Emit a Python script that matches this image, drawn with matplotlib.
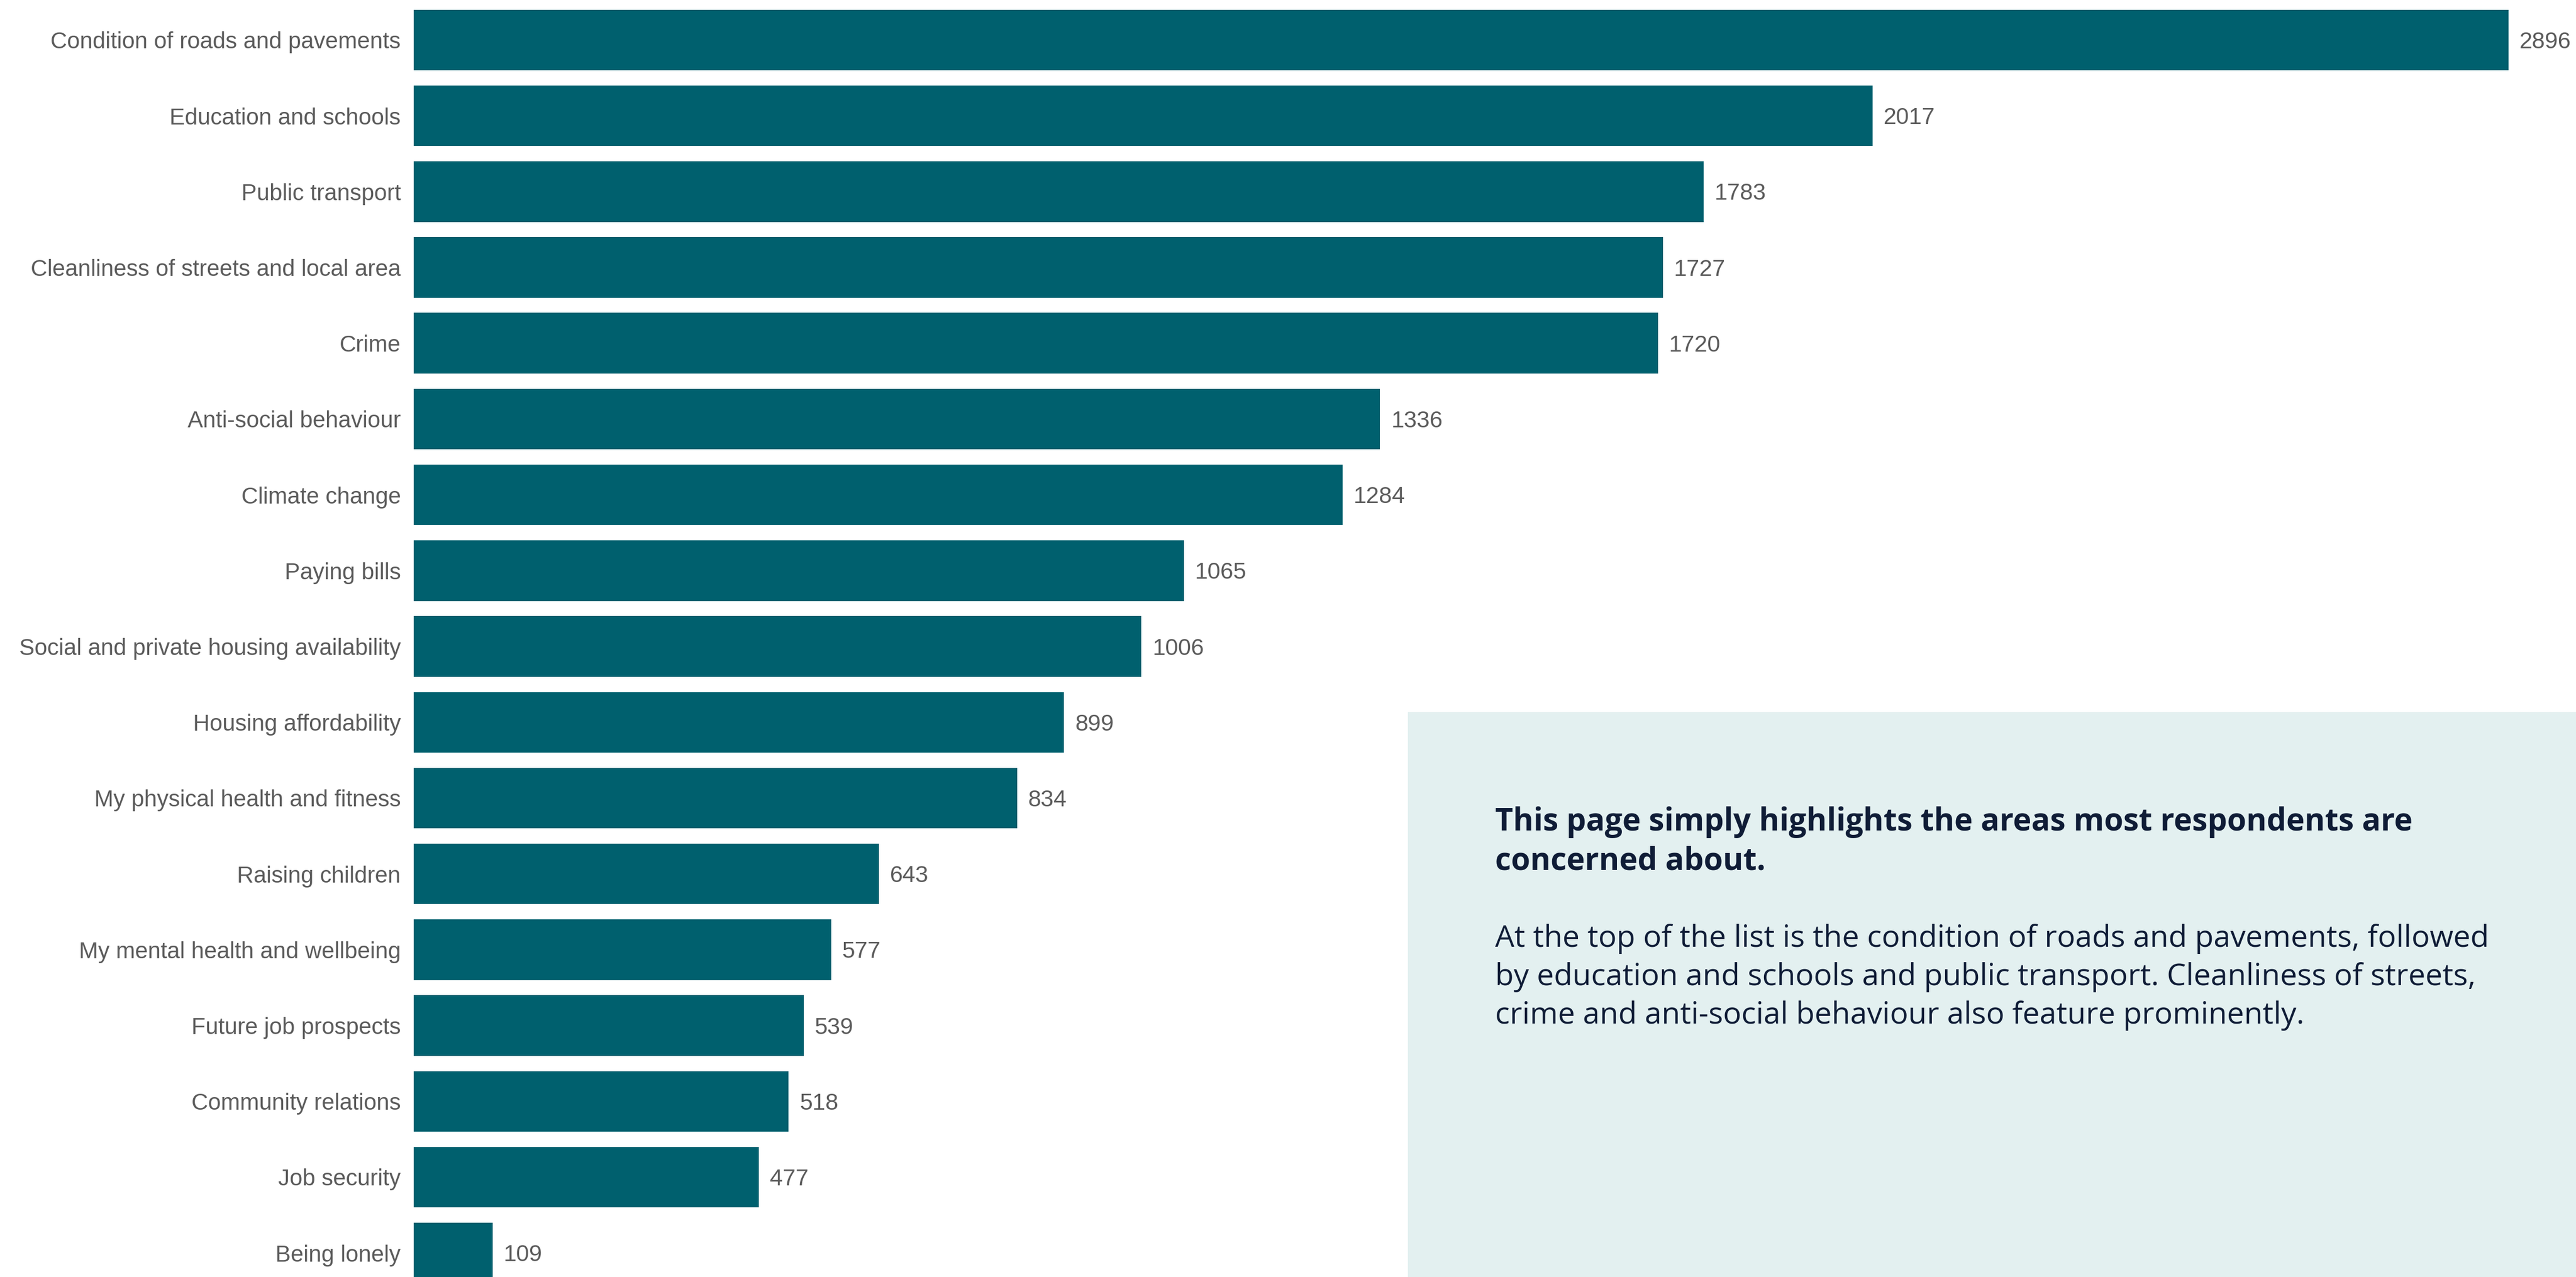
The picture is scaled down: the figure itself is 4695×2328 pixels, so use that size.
import matplotlib.pyplot as plt
from matplotlib.patches import Rectangle

# ---- data ----
categories = [
    "Condition of roads and pavements",
    "Education and schools",
    "Public transport",
    "Cleanliness of streets and local area",
    "Crime",
    "Anti-social behaviour",
    "Climate change",
    "Paying bills",
    "Social and private housing availability",
    "Housing affordability",
    "My physical health and fitness",
    "Raising children",
    "My mental health and wellbeing",
    "Future job prospects",
    "Community relations",
    "Job security",
    "Being lonely",
]
counts = [2896, 2017, 1783, 1727, 1720, 1336, 1284, 1065, 1006, 899, 834, 643, 577, 539, 518, 477, 109]

heading_lines = [
    "This page simply highlights the areas most respondents are",
    "concerned about.",
]
body_lines = [
    "At the top of the list is the condition of roads and pavements, followed",
    "by education and schools and public transport. Cleanliness of streets,",
    "crime and anti-social behaviour also feature prominently.",
]

BAR = "#00606e"
GREY = "#5b5b5b"
NAVY = "#0f1c36"
PANEL = "#e3f0f0"

W, H = 4695, 2328
fig = plt.figure(figsize=(W / 100, H / 100), dpi=100)

# axes placed so that bars start at x=754px and run to the right edge
ax = fig.add_axes([754 / W, 0, 1 - 754 / W, 1])
ypos = list(range(len(categories)))
ax.barh(ypos, counts, height=0.8, color=BAR)
ax.set_xlim(0, (W - 754) / 1.3184)
ax.set_ylim(16.317, -0.528)

for y, v in zip(ypos, counts):
    ax.annotate(str(v), (v, y), xytext=(20, -4), textcoords="offset pixels",
                va="center", ha="left", fontsize=30.5, color=GREY,
                family="Liberation Sans")

ax.set_yticks(ypos)
ax.set_yticklabels(categories, fontsize=30.2, color=GREY, family="Liberation Sans")
ax.tick_params(axis="y", length=0, pad=17)
for lab in ax.get_yticklabels():
    lab.set_y(lab.get_position()[1])
ax.set_xticks([])
for s in ax.spines.values():
    s.set_visible(False)

# commentary panel bottom right
fig.patches.append(Rectangle((2566 / W, 0), 1 - 2566 / W, (H - 1298) / H,
                             transform=fig.transFigure, facecolor=PANEL,
                             edgecolor="none", zorder=0))

x0 = 2725 / W
for i, line in enumerate(heading_lines):
    fig.text(x0, 1 - (1514 + 72 * i) / H, line, fontsize=40.8, fontweight="bold",
             color=NAVY, family="Open Sans", va="baseline", ha="left")
for i, line in enumerate(body_lines):
    fig.text(x0, 1 - (1726 + 70 * i) / H, line, fontsize=39.9,
             color=NAVY, family="Open Sans", va="baseline", ha="left")

fig.savefig("out.png", dpi=100)
